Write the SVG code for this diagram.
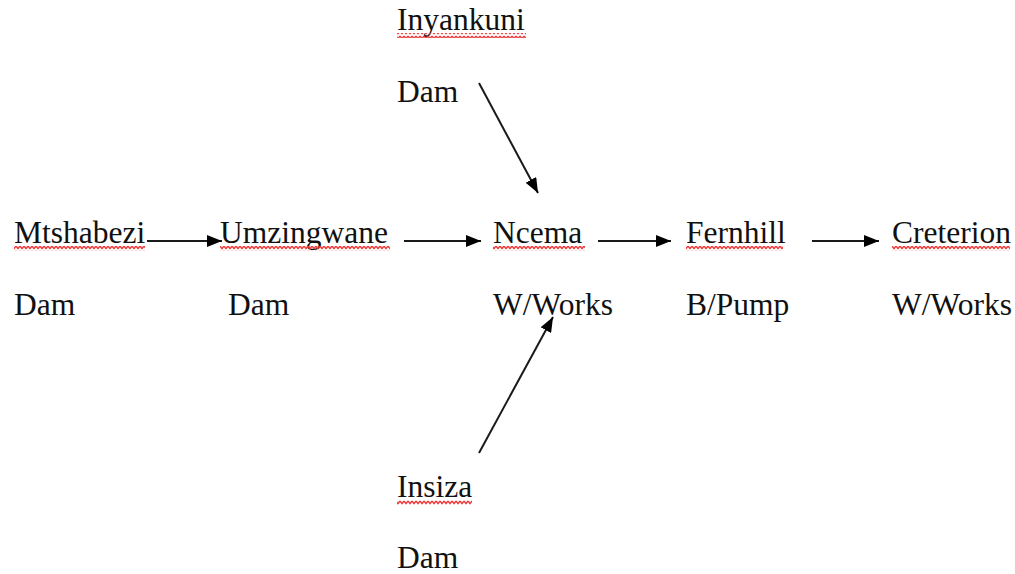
<svg xmlns="http://www.w3.org/2000/svg" width="1015" height="574" viewBox="0 0 1015 574">
  <style>
    .lbl { font-family: "Liberation Serif", "Times New Roman", serif; font-size: 31.5px; fill: #111; }
    .link { stroke: #1a1a1a; stroke-width: 2; fill: none; }
  </style>
  <defs>
    <marker id="arrowhead" markerUnits="userSpaceOnUse" markerWidth="16" markerHeight="12" refX="15" refY="6" orient="auto">
      <path d="M0,0 L15,6 L0,12 Z" fill="#000"/>
    </marker>
    <!-- spell-check style wavy underline, tiled horizontally -->
    <pattern id="wave" width="4" height="5" patternUnits="userSpaceOnUse">
      <path d="M0,1 L2,3.6 L4,1" stroke="#ee3a3a" stroke-width="1.4" fill="none"/>
    </pattern>
  </defs>

  <rect width="1015" height="574" fill="#fff"/>

  <!-- connectors -->
  <g id="connectors">
    <line class="link" x1="147" y1="241" x2="222" y2="241" marker-end="url(#arrowhead)"/>
    <line class="link" x1="404" y1="241" x2="481" y2="241" marker-end="url(#arrowhead)"/>
    <line class="link" x1="598" y1="241" x2="671" y2="241" marker-end="url(#arrowhead)"/>
    <line class="link" x1="812" y1="241" x2="879" y2="241" marker-end="url(#arrowhead)"/>
    <line class="link" x1="479" y1="83" x2="538" y2="193" marker-end="url(#arrowhead)"/>
    <line class="link" x1="479" y1="453" x2="553" y2="317" marker-end="url(#arrowhead)"/>
  </g>

  <!-- nodes -->
  <g id="inyankuni">
    <text class="lbl" x="397" y="30">Inyankuni</text>
    <rect x="397" y="33" width="129" height="5" fill="url(#wave)"/>
    <text class="lbl" x="397" y="102">Dam</text>
  </g>

  <g id="mtshabezi">
    <text class="lbl" x="14" y="243">Mtshabezi</text>
    <rect x="14" y="246" width="131" height="5" fill="url(#wave)"/>
    <text class="lbl" x="14" y="315">Dam</text>
  </g>

  <g id="umzingwane">
    <text class="lbl" x="220" y="243">Umzingwane</text>
    <rect x="220" y="246" width="170" height="5" fill="url(#wave)"/>
    <text class="lbl" x="228" y="315">Dam</text>
  </g>

  <g id="ncema">
    <text class="lbl" x="493" y="243">Ncema</text>
    <rect x="493" y="246" width="92" height="5" fill="url(#wave)"/>
    <text class="lbl" x="493" y="315">W/Works</text>
  </g>

  <g id="fernhill">
    <text class="lbl" x="686" y="243">Fernhill</text>
    <rect x="686" y="246" width="97" height="5" fill="url(#wave)"/>
    <text class="lbl" x="686" y="315">B/Pump</text>
  </g>

  <g id="creterion">
    <text class="lbl" x="892" y="243">Creterion</text>
    <rect x="892" y="246" width="118" height="5" fill="url(#wave)"/>
    <text class="lbl" x="892" y="315">W/Works</text>
  </g>

  <g id="insiza">
    <text class="lbl" x="397" y="497">Insiza</text>
    <rect x="397" y="500" width="75" height="5" fill="url(#wave)"/>
    <text class="lbl" x="397" y="568">Dam</text>
  </g>
</svg>
